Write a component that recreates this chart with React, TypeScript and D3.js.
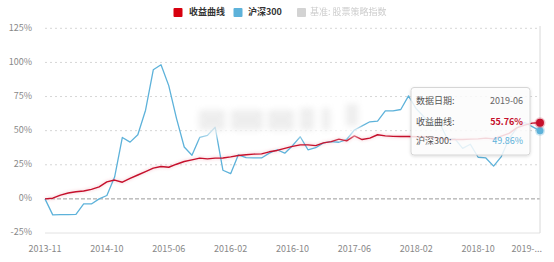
import React from "react";
import * as d3 from "d3";

const categories = [
  "2013-11","2014-03","2014-04","2014-05","2014-06","2014-07","2014-08","2014-09","2014-10","2014-11","2014-12",
  "2015-01","2015-02","2015-03","2015-04","2015-05","2015-06","2015-07","2015-08","2015-09","2015-10","2015-11","2015-12",
  "2016-01","2016-02","2016-03","2016-04","2016-05","2016-06","2016-07","2016-08","2016-09","2016-10","2016-11","2016-12",
  "2017-01","2017-02","2017-03","2017-04","2017-05","2017-06","2017-07","2017-08","2017-09","2017-10","2017-11","2017-12",
  "2018-01","2018-02","2018-03","2018-04","2018-05","2018-06","2018-07","2018-08","2018-09","2018-10","2018-11","2018-12",
  "2019-01","2019-02","2019-03","2019-04","2019-05","2019-06",
];

const strategy = [
  0, 0.5, 2.8, 4.3, 5.2, 5.8, 7, 8.8, 12.5, 13.8, 12.2,
  15, 17.5, 20, 22.5, 23.7, 23.2, 25.4, 27.4, 28.6, 29.9, 29.3, 29.9,
  30, 30.8, 31.8, 32.3, 32.8, 33, 34.5, 35.5, 37, 38.5, 39.6, 39.6,
  39, 41, 42, 43.8, 42.5, 46.2, 43.5, 44.5, 47, 46.2, 45.8, 45.7,
  45.7, 45.5, 45.5, 45, 44.5, 43.5, 43.5, 43.5, 43.8, 44, 44.5, 44,
  46, 48, 52, 54, 55.5, 55.76,
];

const hs300 = [
  0, -11.7, -11.5, -11.5, -11.3, -3.7, -3.7, 0, 2.5, 16, 45,
  41.6, 47, 65, 94.6, 98.3, 83, 59, 38, 32, 45, 46.5, 52.5,
  21, 18.5, 32.3, 30.3, 30, 30, 33.5, 36, 33.5, 39, 45.5, 36,
  37.5, 41, 42, 41.5, 43.5, 50.5, 53.5, 56.5, 57, 64.5, 64.5, 65.5,
  75.5, 66, 60, 54, 56, 44, 44, 37, 40, 30.5, 30, 24,
  31, 44, 52, 56, 53, 49.86,
];

const yTicks = [-25, 0, 25, 50, 75, 100, 125];
const legendNames = ["收益曲线", "沪深300", "基准: 股票策略指数"];
const tooltipLabels = ["数据日期:", "收益曲线:", "沪深300:"];

const W = 554;
const H = 262;
const FONT = "'Noto Sans CJK SC', 'Noto Sans', sans-serif";
const RED = "#c5102c";
const BLUE = "#5db2da";

export default function App() {
  const x = d3.scalePoint<number>().domain(d3.range(categories.length)).range([45, 540]);
  const y = d3.scaleLinear().domain([-25, 125]).range([233, 28.3]);
  const line = d3
    .line<number>()
    .x((_, i) => x(i) as number)
    .y((d) => y(d));
  const last = categories.length - 1;
  const labelIdx = d3.range(0, categories.length, 8);

  return (
    <svg
      width={W}
      height={H}
      style={{ position: "absolute", left: 0, top: 0, background: "#fff", fontFamily: FONT }}
    >
      <defs>
        <filter id="blurWm" x="-20%" y="-50%" width="140%" height="200%">
          <feGaussianBlur stdDeviation="3" />
        </filter>
        <filter id="blurText" x="-5%" y="-50%" width="110%" height="200%">
          <feGaussianBlur stdDeviation="0.6" />
        </filter>
        <filter id="shadow" x="-10%" y="-10%" width="120%" height="130%">
          <feDropShadow dx="0" dy="1" stdDeviation="1.5" floodColor="#000" floodOpacity="0.15" />
        </filter>
        <filter id="lineGlow" x="-5%" y="-20%" width="110%" height="140%">
          <feGaussianBlur stdDeviation="1.5" />
        </filter>
      </defs>

      {/* legend */}
      <g fontSize={9} fontWeight={600}>
        <rect x={173.5} y={8} width={9} height={9} fill="#d7000f" rx={1} />
        <text x={189} y={13} dominantBaseline="middle" fill="#333">{legendNames[0]}</text>
        <rect x={233.5} y={8} width={9} height={9} fill={BLUE} rx={1} />
        <text x={248} y={13} dominantBaseline="middle" fill="#333">{legendNames[1]}</text>
        <rect x={297} y={8} width={9} height={9} fill="#d3d3d3" rx={1} />
        <text x={310} y={13} dominantBaseline="middle" fill="#cccccc" fontWeight={400} filter="url(#blurText)">
          {legendNames[2]}
        </text>
      </g>

      {/* grid */}
      {yTicks.map((t) => (
        <g key={t}>
          {t === 0 ? (
            <line x1={45} x2={540} y1={y(t)} y2={y(t)} stroke="#9a9a9a" strokeWidth={1} strokeDasharray="4,2" />
          ) : t === -25 ? (
            <line x1={45} x2={540} y1={y(t)} y2={y(t)} stroke="#e2e2e2" strokeWidth={1} />
          ) : (
            <line x1={45} x2={540} y1={y(t)} y2={y(t)} stroke="#d6d6d6" strokeWidth={1} strokeDasharray="2,3" />
          )}
          <text x={32} y={y(t)} textAnchor="end" dominantBaseline="middle" fontSize={9} fill="#888">
            {t}%
          </text>
        </g>
      ))}

      {/* x labels */}
      {labelIdx.map((i) => (
        <text
          key={i}
          x={i === last ? 542 : (x(i) as number)}
          y={250}
          textAnchor={i === last ? "end" : "middle"}
          dominantBaseline="middle"
          fontSize={9}
          fill="#888"
        >
          {i === last ? categories[i].slice(0, 5) + "..." : categories[i]}
        </text>
      ))}

      {/* axis pointer */}
      <line x1={x(last) as number} x2={x(last) as number} y1={26} y2={233} stroke="#d8d8d8" strokeWidth={1} />

      {/* lines */}
      <path d={line(strategy) || ""} fill="none" stroke="#f3b6c0" strokeWidth={3} opacity={0.45} filter="url(#lineGlow)" />
      <path d={line(hs300) || ""} fill="none" stroke={BLUE} strokeWidth={1.3} strokeLinejoin="round" />
      <path d={line(strategy) || ""} fill="none" stroke={RED} strokeWidth={1.4} strokeLinejoin="round" />

      {/* blurred watermark */}
      <g>
        <rect x={195} y={92} width={165} height={45} fill="#fff" opacity={0.65} filter="url(#blurWm)" />
        <g fill="#d4d4d4" opacity={0.4} filter="url(#blurWm)">
          <rect x={199} y={110} width={26} height={20} />
          <rect x={231} y={110} width={32} height={20} />
          <rect x={268} y={110} width={26} height={20} />
          <rect x={300} y={108} width={14} height={22} />
          <rect x={322} y={108} width={8} height={22} />
          <rect x={346} y={104} width={12} height={22} />
        </g>
      </g>

      {/* tooltip */}
      <g filter="url(#shadow)">
        <rect x={411} y={87.5} width={119} height={67.5} rx={3} fill="#fff" fillOpacity={0.82} stroke="#d6d6d6" strokeWidth={1} />
      </g>
      <g fontSize={9}>
        <text x={416} y={101.7} dominantBaseline="middle" fill="#555">{tooltipLabels[0]}</text>
        <text x={416} y={122.4} dominantBaseline="middle" fill="#555">{tooltipLabels[1]}</text>
        <text x={416} y={141.7} dominantBaseline="middle" fill="#555">{tooltipLabels[2]}</text>
        <text x={523} y={101.7} textAnchor="end" dominantBaseline="middle" fill="#666">{categories[last]}</text>
        <text x={523} y={122.4} textAnchor="end" dominantBaseline="middle" fill={RED} fontWeight={700}>
          {strategy[last].toFixed(2)}%
        </text>
        <text x={523} y={141.7} textAnchor="end" dominantBaseline="middle" fill={BLUE}>
          {hs300[last].toFixed(2)}%
        </text>
      </g>

      {/* end points */}
      <circle cx={x(last) as number} cy={y(hs300[last])} r={5} fill={BLUE} opacity={0.3} />
      <circle cx={x(last) as number} cy={y(hs300[last])} r={3.5} fill={BLUE} />
      <circle cx={x(last) as number} cy={y(strategy[last])} r={5.5} fill={RED} opacity={0.25} />
      <circle cx={x(last) as number} cy={y(strategy[last])} r={4} fill={RED} />
    </svg>
  );
}
